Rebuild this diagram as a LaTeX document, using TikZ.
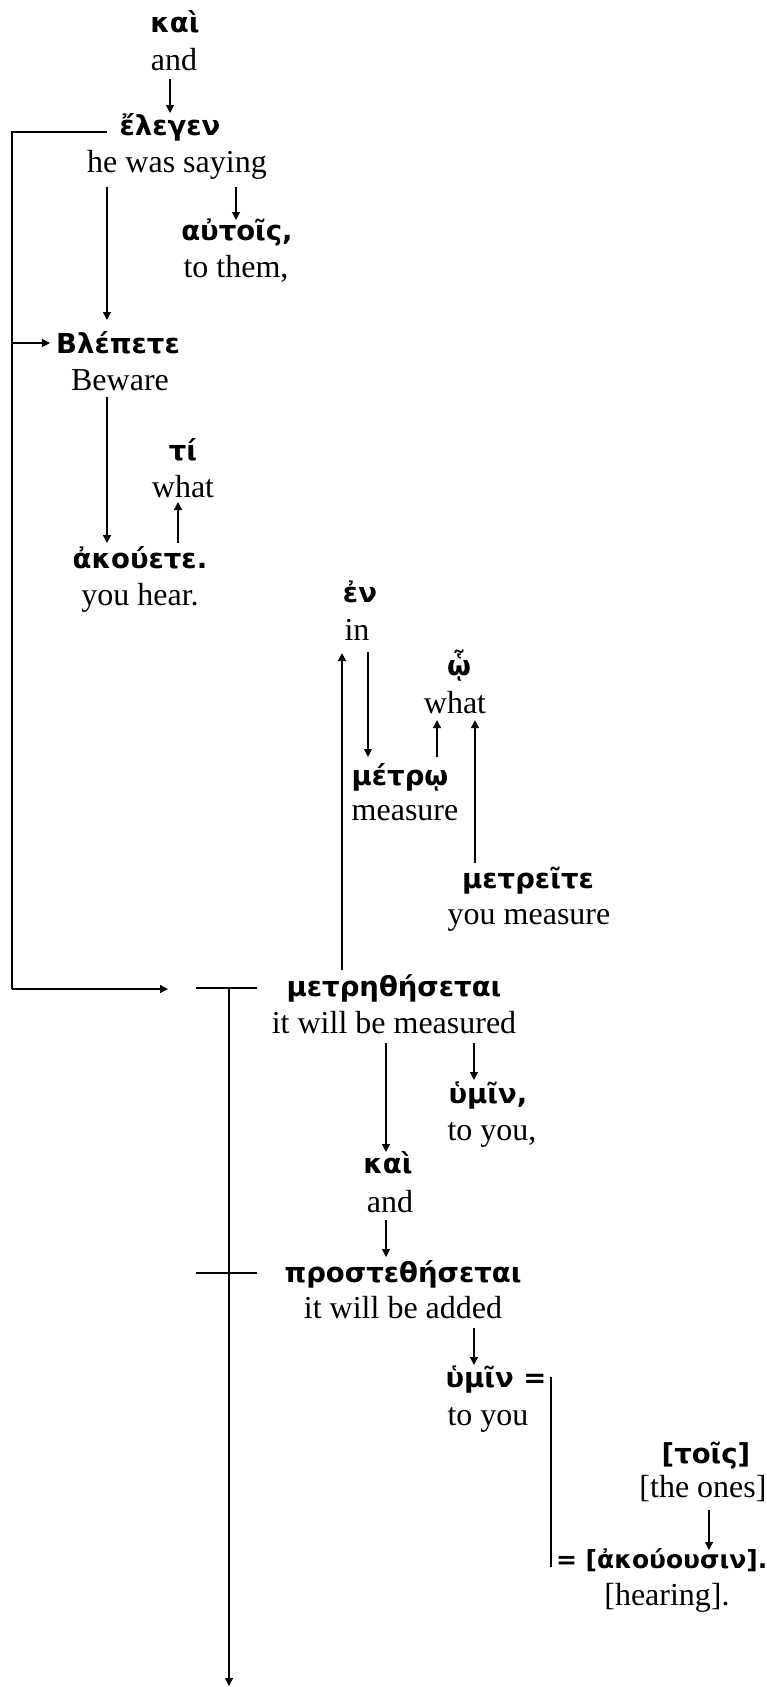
\documentclass[tikz,border=0pt]{standalone}
\usepackage{fontspec}
\setmainfont{Liberation Serif}
\newfontfamily\gkfont{DejaVu Sans}
\usetikzlibrary{arrows.meta,calc}
\tikzset{
  gk/.style={inner sep=0pt, outer sep=0pt, anchor=base, font=\gkfont\bfseries\fontsize{27.5}{31}\selectfont},
  gksmall/.style={gk, font=\gkfont\bfseries\fontsize{25}{29}\selectfont},
  en/.style={inner sep=0pt, outer sep=0pt, anchor=base, font=\fontsize{32}{36}\selectfont},
  ln/.style={line width=1.4pt},
  arr/.style={line width=1.4pt, -{Triangle[length=8pt,width=8pt]}},
}
\begin{document}
\begin{tikzpicture}[x=1pt,y=-1pt]
\useasboundingbox (0,0) rectangle (767,1687);
% words
\node[gk] (g1) at (175,32) {καὶ};
\node[en] (e1) at (174,70) {and};
\node[gk] (g2) at (170,135) {ἔλεγεν};
\node[en] (e2) at (177,172) {he was saying};
\node[gk] (g3) at (237,240) {αὐτοῖς,};
\node[en] (e3) at (236,277) {to them,};
\node[gk] (g4) at (118,353) {Βλέπετε};
\node[en] (e4) at (120,390) {Beware};
\node[gk] (g5) at (183,460) {τί};
\node[en] (e5) at (183,497) {what};
\node[gk] (g6) at (140,568) {ἀκούετε.};
\node[en] (e6) at (140,605) {you hear.};
\node[gk] (g7) at (360,602) {ἐν};
\node[en] (e7) at (357,640) {in};
\node[gk] (g8) at (459,675) {ᾧ};
\node[en] (e8) at (455,713) {what};
\node[gk] (g9) at (400,785) {μέτρῳ};
\node[en] (e9) at (405,820) {measure};
\node[gk] (g10) at (528,888) {μετρεῖτε};
\node[en] (e10) at (529,924) {you measure};
\node[gk] (g11) at (394,996) {μετρηθήσεται};
\node[en] (e11) at (394,1033) {it will be measured};
\node[gk] (g12) at (488,1103) {ὑμῖν,};
\node[en] (e12) at (492,1140) {to you,};
\node[gk] (g13) at (388,1173) {καὶ};
\node[en] (e13) at (390,1212) {and};
\node[gk] (g14) at (403,1282) {προστεθήσεται};
\node[en] (e14) at (403,1318) {it will be added};
\node[gk] (g15) at (496,1387) {ὑμῖν =};
\node[en] (e15) at (488,1425) {to you};
\node[gk] (g16) at (706,1463) {[τοῖς]};
\node[en] (e16) at (703,1497) {[the ones]};
\node[gksmall, anchor=base west] (g17) at (556,1568) {= [ἀκούουσιν].};
\node[en] (e17) at (667,1605) {[hearing].};
% rail and clause bars
\coordinate (railtop) at (12,132);
\coordinate (railbot) at (12,989);
\coordinate (bar1L) at (196,988);
\coordinate (bar1R) at (257,988);
\coordinate (bar2L) at (196,1273);
\coordinate (bar2R) at (257,1273);
\coordinate (clausetop) at (229,988);
\coordinate (clausebot) at (229,1686);
\coordinate (railtip) at (168,989);
% connectors
\draw[arr] ($(e1.base)+(-4,9)$) -- ($(g2.base)+(0,-22)$);
\draw[ln] ($(g2.base)+(-63,-3)$) -- (railtop) -- (railbot);
\draw[arr] (railbot) -- (railtip);
\draw[arr] (railtop |- 0,343) -- ($(g4.base)+(-68,-10)$);
\draw[arr] ($(e2.base)+(-70,15)$) -- ($(g4.base)+(-11,-33)$);
\draw[arr] ($(e2.base)+(59,15)$) -- ($(g3.base)+(-1,-20)$);
\draw[arr] ($(e4.base)+(-13,7)$) -- ($(g6.base)+(-33,-25)$);
\draw[arr] ($(g6.base)+(38,-25)$) -- ($(e5.base)+(-5,5)$);
\draw[arr] ($(g11.base)+(-52,-26)$) -- ($(e7.base)+(-15,13)$);
\draw[arr] ($(e7.base)+(11,12)$) -- ($(g9.base)+(-32,-28)$);
\draw[arr] ($(g9.base)+(37,-28)$) -- ($(e8.base)+(-18,7)$);
\draw[arr] ($(g10.base)+(-53,-25)$) -- ($(e8.base)+(20,7)$);
\draw[arr] ($(e11.base)+(80,10)$) -- ($(g12.base)+(-14,-23)$);
\draw[arr] ($(e11.base)+(-8,10)$) -- ($(g13.base)+(-2,-21)$);
\draw[arr] ($(e13.base)+(-4,8)$) -- ($(g14.base)+(-17,-25)$);
\draw[arr] ($(e14.base)+(71,10)$) -- ($(g15.base)+(-22,-22)$);
\draw[arr] ($(e16.base)+(6,13)$) -- ($(g17.base west)+(153,-18)$);
\draw[ln] ($(g15.base)+(55,-10)$) -- ($(g17.base west)+(-5,-1)$);
\draw[ln] (bar1L) -- (bar1R);
\draw[ln] (bar2L) -- (bar2R);
\draw[arr] (clausetop) -- (clausebot);
\end{tikzpicture}
\end{document}
